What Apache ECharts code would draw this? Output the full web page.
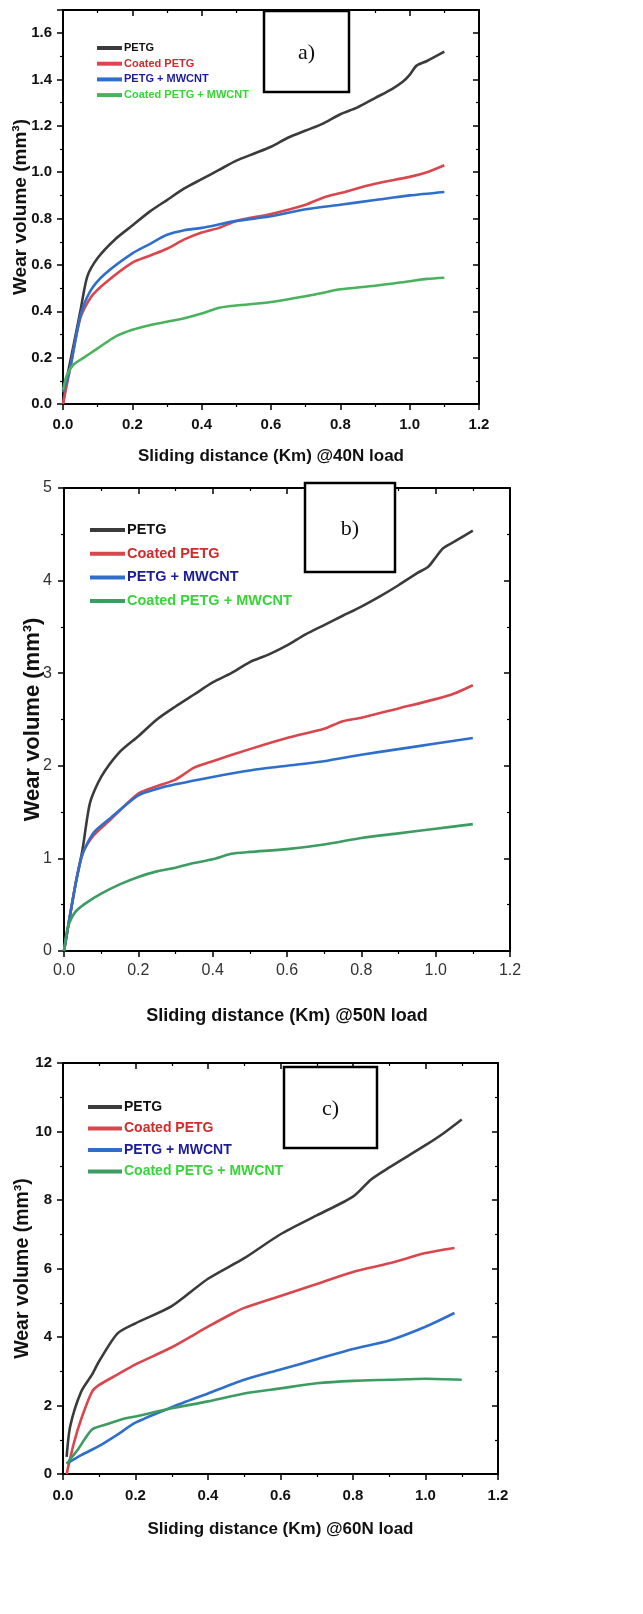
<!DOCTYPE html>
<html><head><meta charset="utf-8">
<script src="https://cdn.jsdelivr.net/npm/echarts@6/dist/echarts.min.js"></script>
<style>html,body{margin:0;padding:0;background:#fff}#c{width:643px;height:1614px}</style>
</head><body><div id="c"></div>
<script>
// ---- data (x: sliding distance km, y: wear volume mm3) ----
const seriesNames = ['PETG', 'Coated PETG', 'PETG + MWCNT', 'Coated PETG + MWCNT'];
const loads = ['@40N load', '@50N load', '@60N load'];
const panelTags = ['a)', 'b)', 'c)'];

// panel a (40N)
const a_PETG = [[0,0],[0.01,0.1],[0.03,0.25],[0.05,0.4],[0.07,0.55],[0.1,0.63],[0.15,0.71],[0.2,0.77],[0.25,0.83],[0.3,0.88],[0.35,0.93],[0.4,0.97],[0.45,1.01],[0.5,1.05],[0.55,1.08],[0.6,1.11],[0.65,1.15],[0.7,1.18],[0.75,1.21],[0.8,1.25],[0.85,1.28],[0.9,1.32],[0.95,1.36],[0.98,1.39],[1.0,1.42],[1.02,1.46],[1.05,1.48],[1.1,1.52]];
const a_Coated = [[0,0],[0.02,0.15],[0.05,0.37],[0.08,0.46],[0.12,0.52],[0.2,0.61],[0.25,0.64],[0.3,0.67],[0.35,0.71],[0.4,0.74],[0.45,0.76],[0.5,0.79],[0.6,0.82],[0.7,0.86],[0.75,0.89],[0.8,0.91],[0.9,0.95],[1.0,0.98],[1.05,1.0],[1.1,1.03]];
const a_MWCNT = [[0,0.05],[0.02,0.15],[0.05,0.38],[0.08,0.49],[0.12,0.56],[0.2,0.65],[0.25,0.69],[0.3,0.73],[0.35,0.75],[0.4,0.76],[0.5,0.79],[0.6,0.81],[0.7,0.84],[0.8,0.86],[0.9,0.88],[1.0,0.9],[1.1,0.915]];
const a_CoatedMWCNT = [[0,0.06],[0.01,0.12],[0.03,0.17],[0.06,0.2],[0.1,0.24],[0.15,0.29],[0.2,0.32],[0.25,0.34],[0.3,0.355],[0.35,0.37],[0.4,0.39],[0.45,0.415],[0.5,0.425],[0.6,0.44],[0.7,0.465],[0.75,0.48],[0.8,0.495],[0.9,0.51],[1.0,0.53],[1.05,0.54],[1.1,0.545]];

// panel b (50N)
const b_PETG = [[0,0],[0.03,0.7],[0.05,1.1],[0.07,1.6],[0.1,1.88],[0.15,2.15],[0.2,2.32],[0.25,2.5],[0.3,2.64],[0.35,2.77],[0.4,2.9],[0.45,3.0],[0.5,3.12],[0.55,3.2],[0.6,3.3],[0.65,3.42],[0.7,3.52],[0.75,3.62],[0.8,3.72],[0.85,3.83],[0.9,3.95],[0.95,4.08],[0.98,4.15],[1.0,4.25],[1.02,4.35],[1.05,4.42],[1.1,4.54]];
const b_Coated = [[0,0],[0.03,0.7],[0.05,1.05],[0.08,1.25],[0.12,1.4],[0.2,1.7],[0.25,1.78],[0.3,1.85],[0.35,1.98],[0.4,2.05],[0.5,2.18],[0.6,2.3],[0.7,2.4],[0.75,2.48],[0.8,2.52],[0.9,2.62],[1.0,2.72],[1.05,2.78],[1.1,2.87]];
const b_MWCNT = [[0,0],[0.03,0.7],[0.05,1.05],[0.08,1.28],[0.12,1.42],[0.2,1.68],[0.25,1.75],[0.3,1.8],[0.4,1.88],[0.5,1.95],[0.6,2.0],[0.7,2.05],[0.8,2.12],[0.9,2.18],[1.0,2.24],[1.1,2.3]];
const b_CoatedMWCNT = [[0,0],[0.01,0.25],[0.03,0.42],[0.06,0.52],[0.1,0.62],[0.15,0.72],[0.2,0.8],[0.25,0.86],[0.3,0.9],[0.35,0.95],[0.4,0.99],[0.45,1.05],[0.5,1.07],[0.6,1.1],[0.7,1.15],[0.8,1.22],[0.9,1.27],[1.0,1.32],[1.1,1.37]];

// panel c (60N)
const c_PETG = [[0.01,0.5],[0.02,1.4],[0.05,2.4],[0.08,2.9],[0.1,3.3],[0.15,4.1],[0.2,4.4],[0.3,4.9],[0.4,5.7],[0.5,6.3],[0.6,7.0],[0.7,7.55],[0.8,8.1],[0.85,8.6],[0.9,8.95],[1.0,9.6],[1.05,9.95],[1.1,10.35]];
const c_Coated = [[0.01,0],[0.03,0.9],[0.05,1.6],[0.08,2.4],[0.1,2.6],[0.15,2.9],[0.2,3.2],[0.3,3.7],[0.4,4.3],[0.47,4.7],[0.5,4.85],[0.6,5.2],[0.7,5.55],[0.8,5.9],[0.9,6.15],[1.0,6.45],[1.08,6.6]];
const c_MWCNT = [[0.01,0.3],[0.05,0.55],[0.1,0.82],[0.15,1.15],[0.2,1.5],[0.3,1.95],[0.4,2.35],[0.5,2.75],[0.6,3.05],[0.7,3.35],[0.8,3.65],[0.9,3.9],[1.0,4.3],[1.08,4.7]];
const c_CoatedMWCNT = [[0.01,0.3],[0.04,0.7],[0.08,1.3],[0.12,1.45],[0.17,1.62],[0.2,1.68],[0.3,1.92],[0.4,2.12],[0.5,2.35],[0.6,2.5],[0.7,2.65],[0.8,2.72],[0.9,2.75],[1.0,2.78],[1.1,2.75]];

const panelData = [
  [a_PETG, a_Coated, a_MWCNT, a_CoatedMWCNT],
  [b_PETG, b_Coated, b_MWCNT, b_CoatedMWCNT],
  [c_PETG, c_Coated, c_MWCNT, c_CoatedMWCNT]
];
const yMax = [1.7, 5, 12];
const yInterval = [0.2, 1, 2];

// ---- styling ----
const lineColors = [
  ['#3b3b3b', '#d9474d', '#2f6fcc', '#48b25c'],
  ['#3b3b3b', '#d9474d', '#2f6fcc', '#3d9c62'],
  ['#3b3b3b', '#d9474d', '#2f6fcc', '#3d9c62']
];
const legendTextColors = ['#111111', '#d42a2a', '#1c1c9a', '#38d438'];
const grids = [
  {left: 63, top: 10, width: 416, height: 394},
  {left: 64, top: 488, width: 446, height: 463},
  {left: 63, top: 1063, width: 435, height: 411}
];
const P = [
  {lblBold: 'bold', lblColor: '#111', lblSize: 15, xGap: 44, yGap: 33, xTitle: 17, yTitle: 19, lblMargin: 11, xMargin: 13, legFont: 11, legLH: 13, legGap: 2.7, legLeft: 97, legTop: 41.5, legW: 25, yFmt: v => v.toFixed(1)},
  {lblBold: 'normal', lblColor: '#333', lblSize: 16, xGap: 56, yGap: 20, xTitle: 18, yTitle: 22, lblMargin: 12, xMargin: 12, legFont: 14.5, legLH: 17, legGap: 6.7, legLeft: 90, legTop: 521.5, legW: 35, yFmt: v => String(Math.round(v))},
  {lblBold: 'bold', lblColor: '#111', lblSize: 15, xGap: 47, yGap: 30, xTitle: 17, yTitle: 19.5, lblMargin: 11, xMargin: 14, legFont: 14, legLH: 17, legGap: 4.5, legLeft: 88, legTop: 1098.5, legW: 34, yFmt: v => String(Math.round(v))}
];
const FONT = 'Liberation Sans, Arial, sans-serif';
const axLine = {onZero: false, lineStyle: {color: '#000', width: 2}};

const option = {
  animation: false,
  backgroundColor: '#fff',
  grid: grids.map(g => Object.assign({containLabel: false, outerBoundsMode: 'none'}, g)),
  xAxis: [], yAxis: [], series: [], legend: [], graphic: []
};

grids.forEach((g, i) => {
  const p = P[i];
  const lbl = {fontFamily: FONT, fontWeight: p.lblBold, color: p.lblColor, fontSize: p.lblSize};
  option.xAxis.push({
    type: 'value', gridIndex: i, position: 'bottom', min: 0, max: 1.2, interval: 0.2,
    axisLine: axLine, splitLine: {show: false},
    axisTick: {inside: false, length: 6, lineStyle: {width: 1.5, color: '#000'}},
    minorTick: {show: true, splitNumber: 2, length: 3, lineStyle: {width: 1.2, color: '#000'}},
    axisLabel: Object.assign({formatter: v => v.toFixed(1), margin: p.xMargin}, lbl),
    name: 'Sliding distance (Km) ' + loads[i], nameLocation: 'middle', nameGap: p.xGap, nameMoveOverlap: false,
    nameTextStyle: {fontFamily: FONT, fontWeight: 'bold', fontSize: p.xTitle, color: '#111'}
  });
  option.xAxis.push({
    type: 'value', gridIndex: i, position: 'top', min: 0, max: 1.2, interval: 0.2,
    axisLine: axLine, splitLine: {show: false}, axisLabel: {show: false},
    axisTick: {inside: true, length: 6, lineStyle: {width: 1.5, color: '#000'}},
    minorTick: {show: true, splitNumber: 2, length: 3, lineStyle: {width: 1.2, color: '#000'}}
  });
  option.yAxis.push({
    type: 'value', gridIndex: i, position: 'left', min: 0, max: yMax[i], interval: yInterval[i],
    axisLine: axLine, splitLine: {show: false},
    axisTick: {inside: false, length: 6, lineStyle: {width: 1.5, color: '#000'}},
    minorTick: {show: true, splitNumber: 2, length: 3, lineStyle: {width: 1.2, color: '#000'}},
    axisLabel: Object.assign({formatter: p.yFmt, showMaxLabel: i !== 0, margin: p.lblMargin}, lbl),
    name: 'Wear volume (mm³)', nameLocation: 'middle', nameGap: p.yGap, nameRotate: 90, nameMoveOverlap: false,
    nameTextStyle: {fontFamily: FONT, fontWeight: 'bold', fontSize: p.yTitle, color: '#111'}
  });
  option.yAxis.push({
    type: 'value', gridIndex: i, position: 'right', min: 0, max: yMax[i], interval: yInterval[i],
    axisLine: axLine, splitLine: {show: false}, axisLabel: {show: false},
    axisTick: {inside: true, length: 6, lineStyle: {width: 1.5, color: '#000'}},
    minorTick: {show: true, splitNumber: 2, length: 3, lineStyle: {width: 1.2, color: '#000'}}
  });
  panelData[i].forEach((d, k) => {
    option.series.push({
      type: 'line', name: seriesNames[k], xAxisIndex: 2 * i, yAxisIndex: 2 * i,
      data: d, showSymbol: false, symbol: 'none', smooth: 0.25,
      lineStyle: {color: lineColors[i][k], width: 2.6}, itemStyle: {color: lineColors[i][k]}, z: 3
    });
  });
  option.legend.push({
    orient: 'vertical', left: p.legLeft, top: p.legTop, itemGap: p.legGap, padding: 0,
    itemWidth: p.legW, itemHeight: 4, icon: 'rect', selectedMode: false,
    data: seriesNames.map((n, k) => ({name: n, itemStyle: {color: lineColors[i][k]},
      textStyle: {color: legendTextColors[k], fontWeight: 'bold', fontSize: p.legFont, lineHeight: p.legLH, fontFamily: FONT, padding: [0, 0, 0, -3]}}))
  });
});

// panel tag boxes
const boxes = [
  {x: 264, y: 11, w: 85, h: 81},
  {x: 305, y: 483, w: 90, h: 89},
  {x: 284, y: 1067, w: 93, h: 81}
];
boxes.forEach((b, i) => {
  option.graphic.push({type: 'rect', shape: {x: b.x, y: b.y, width: b.w, height: b.h},
    style: {fill: '#fff', stroke: '#000', lineWidth: 2.5}, z: 10});
  option.graphic.push({type: 'text', x: b.x + b.w / 2, y: b.y + b.h / 2 + 2,
    style: {text: panelTags[i], font: '22px "Liberation Serif", serif', fill: '#111', align: 'center', verticalAlign: 'middle'}, z: 11});
});

const chart = echarts.init(document.getElementById('c'), null, {renderer: 'canvas'});
chart.setOption(option);
</script></body></html>
